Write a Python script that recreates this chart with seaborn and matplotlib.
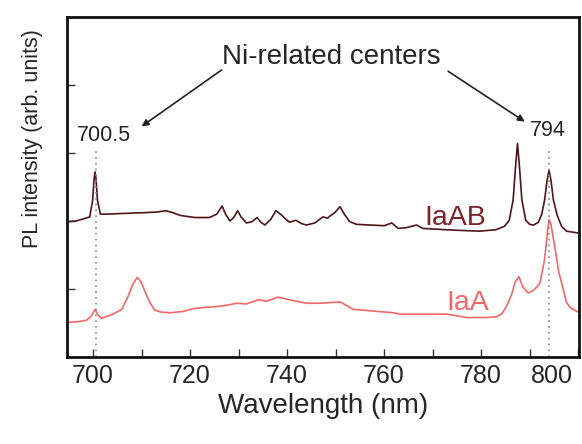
import numpy as np
import pandas as pd
import matplotlib
matplotlib.use("Agg")
import matplotlib.pyplot as plt
import matplotlib.transforms as mtransforms
from matplotlib.ticker import MultipleLocator, NullFormatter
import seaborn as sns

# PL spectra (wavelength in nm, intensity in arb. units)
iaab_wl = [695.0, 696.5, 698.0, 699.3, 699.9, 700.2, 700.4, 700.6, 700.9, 701.5,
           703.0, 706.0, 710.0, 713.0, 715.0, 716.5, 718.0, 721.0, 724.0, 725.5,
           726.6, 727.3, 728.2, 729.0, 729.8, 730.5, 731.6, 732.8, 733.8, 734.6,
           735.4, 736.6, 737.7, 738.8, 739.5, 740.5, 741.8, 743.0, 744.0, 745.7,
           747.4, 748.3, 748.8, 749.8, 750.9, 751.8, 752.9, 754.3, 757.0, 760.0,
           761.6, 762.9, 764.5, 766.7, 768.0, 772.9, 776.0, 779.7, 783.0, 784.8,
           785.8, 786.6, 787.1, 787.5, 787.9, 788.4, 789.2, 790.0, 790.8, 791.8,
           792.5, 793.1, 793.6, 794.0, 794.4, 794.9, 795.7, 796.6, 797.6, 800.2]
iaab_int = [1.99, 2.00, 2.03, 2.06, 2.30, 2.62, 2.72, 2.62, 2.30, 2.10,
            2.10, 2.11, 2.12, 2.13, 2.15, 2.12, 2.08, 2.05, 2.05, 2.10,
            2.22, 2.10, 2.00, 2.05, 2.15, 2.06, 1.97, 1.99, 2.05, 1.98,
            1.94, 2.02, 2.15, 2.09, 2.04, 1.98, 2.01, 1.96, 1.94, 1.97,
            2.06, 2.04, 2.07, 2.12, 2.21, 2.10, 1.99, 1.95, 1.94, 1.93,
            1.97, 1.89, 1.90, 1.94, 1.89, 1.87, 1.86, 1.85, 1.87, 1.92,
            2.01, 2.31, 2.80, 3.14, 2.80, 2.31, 2.01, 1.95, 1.94, 1.98,
            2.10, 2.31, 2.60, 2.74, 2.60, 2.31, 2.08, 1.92, 1.85, 1.82]

iaa_wl = [695.0, 697.0, 698.6, 699.6, 700.4, 701.0, 701.7, 703.0, 704.1, 705.9,
          707.2, 708.2, 709.1, 709.9, 710.7, 711.7, 712.7, 714.0, 715.8, 718.6,
          720.6, 723.0, 725.4, 727.5, 729.6, 731.6, 734.0, 735.8, 738.1, 741.2,
          744.0, 746.7, 749.0, 750.9, 752.2, 753.6, 757.0, 761.9, 763.2, 768.0,
          772.9, 777.0, 781.0, 783.2, 784.3, 785.2, 786.3, 787.0, 787.8, 788.6,
          789.7, 790.8, 792.1, 793.0, 793.3, 793.7, 794.0, 794.4, 795.3, 796.0,
          796.6, 797.6, 798.5, 799.7, 800.2]
iaa_int = [0.51, 0.52, 0.54, 0.60, 0.70, 0.62, 0.57, 0.60, 0.63, 0.70,
           0.89, 1.07, 1.17, 1.10, 0.96, 0.80, 0.69, 0.66, 0.65, 0.67,
           0.71, 0.73, 0.74, 0.76, 0.79, 0.78, 0.84, 0.82, 0.88, 0.83,
           0.79, 0.79, 0.80, 0.81, 0.76, 0.70, 0.68, 0.65, 0.63, 0.63,
           0.63, 0.58, 0.58, 0.59, 0.64, 0.74, 0.92, 1.10, 1.18, 1.03,
           0.94, 0.98, 1.08, 1.40, 1.57, 1.85, 2.02, 1.95, 1.57, 1.25,
           1.09, 0.80, 0.72, 0.67, 0.66]

ni_lines = [700.5, 794.0]
ni_labels = ["700.5", "794"]
x_ticks = [700, 720, 740, 760, 780, 800]
y_ticks = [1, 2, 3, 4]

col_iaab = "#4f1518"
col_iaab_txt = "#7a2328"
col_iaa = "#f26868"

sns.set_theme(style="ticks")
plt.rcParams["font.family"] = ["Liberation Sans", "DejaVu Sans"]

fig = plt.figure(figsize=(5.82, 4.44), dpi=100)
ax = fig.add_axes([0.115, 0.196, 0.880, 0.766])

df_ab = pd.DataFrame({"wl": iaab_wl, "pl": iaab_int})
df_a = pd.DataFrame({"wl": iaa_wl, "pl": iaa_int})
sns.lineplot(data=df_ab, x="wl", y="pl", ax=ax, color=col_iaab, linewidth=1.2)
sns.lineplot(data=df_a, x="wl", y="pl", ax=ax, color=col_iaa, linewidth=1.2)

# dotted markers at the Ni centres
tops = [3.04, 3.09]
for xv, top in zip(ni_lines, tops):
    ax.plot([xv, xv], [0, top], color="#888888", linestyle=(0, (1, 2.5)),
            linewidth=1.2)

ax.text(702.2, 3.26, ni_labels[0], fontsize=15.5, ha="center", va="center")
ax.text(793.8, 3.33, ni_labels[1], fontsize=15.5, ha="center", va="center")
ax.text(749.2, 4.41, "Ni-related centers", fontsize=20, ha="center", va="center")
ax.annotate("", xy=(710.0, 3.39), xytext=(726.5, 4.22),
            arrowprops=dict(arrowstyle="-|>", color="#222222", lw=1.2,
                            mutation_scale=10, shrinkA=0, shrinkB=0))
ax.annotate("", xy=(789.0, 3.46), xytext=(773.2, 4.20),
            arrowprops=dict(arrowstyle="-|>", color="#222222", lw=1.2,
                            mutation_scale=10, shrinkA=0, shrinkB=0))

ax.text(774.6, 2.05, "IaAB", fontsize=20.5, color=col_iaab_txt, ha="center", va="center")
ax.text(777.2, 0.79, "IaA", fontsize=20.5, color=col_iaa, ha="center", va="center")

ax.set_xlim(694.6, 800.2)
ax.set_ylim(0, 5)
ax.set_xticks(x_ticks)
ax.xaxis.set_minor_locator(MultipleLocator(10))
ax.set_yticks(y_ticks)
ax.yaxis.set_major_formatter(NullFormatter())
ax.tick_params(axis="both", which="both", direction="in", length=6, width=1.0,
               color="#333333")
ax.tick_params(axis="x", which="major", labelsize=18, pad=5)
ax.tick_params(axis="y", which="both", left=True, right=False)
ax.tick_params(axis="x", which="both", top=False)

# last label is pulled inside the figure as in the original
lbls = ax.get_xticklabels()
off = mtransforms.ScaledTranslation(-26 / 100, 0, fig.dpi_scale_trans)
lbls[-1].set_transform(lbls[-1].get_transform() + off)

for sp in ax.spines.values():
    sp.set_linewidth(2.0)
    sp.set_color("#111111")

ax.set_xlabel("Wavelength (nm)", fontsize=20)
ax.set_ylabel("PL intensity (arb. units)", fontsize=15.5)
ax.yaxis.set_label_coords(-0.047, 0.643)
ax.xaxis.set_label_coords(0.5, -0.107)

fig.savefig("out.png", dpi=100)
